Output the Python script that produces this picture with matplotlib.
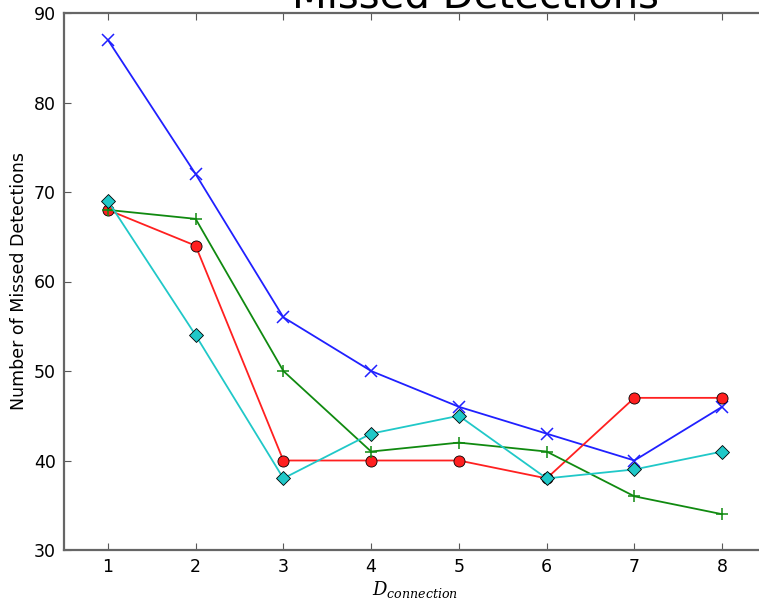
import matplotlib.pyplot as plt

# Missed detections per connection distance
d_connection = [1, 2, 3, 4, 5, 6, 7, 8]
blue_x = [87, 72, 56, 50, 46, 43, 40, 46]
red_o = [68, 64, 40, 40, 40, 38, 47, 47]
green_plus = [68, 67, 50, 41, 42, 41, 36, 34]
cyan_d = [69, 54, 38, 43, 45, 38, 39, 41]

W, H = 759, 601
plt.rcParams['mathtext.fontset'] = 'dejavuserif'

fig = plt.figure(figsize=(W / 100, H / 100), dpi=100)
# the original is a crop: title and right side run off the picture
ax = fig.add_axes([64 / W, 51 / H, (766 - 64) / W, (550 - 13) / H])

ax.plot(d_connection, blue_x, color='#2020ff', marker='x', markersize=8, mew=1.1, lw=1.3)
ax.plot(d_connection, red_o, color='#ff2020', marker='o', markersize=8, mec='k', mew=0.6, lw=1.3)
ax.plot(d_connection, green_plus, color='#108a10', marker='+', markersize=8, mew=1.1, lw=1.3)
ax.plot(d_connection, cyan_d, color='#20c8c8', marker='D', markersize=7, mec='k', mew=0.6, lw=1.3)

ax.set_xlim(0.5, 8.5)
ax.set_ylim(30, 90)
ax.set_xticks(d_connection)
ax.set_yticks(range(30, 91, 10))
ax.tick_params(direction='in', top=True, right=True, length=5, width=0.8,
               color='0.35', labelsize=12.5, pad=6)
for s in ax.spines.values():
    s.set_color('0.4')
    s.set_linewidth(1.6)

ax.set_ylabel('Number of Missed Detections', fontsize=12.5)
ax.set_xlabel(r'$D_{connection}$', fontsize=13, labelpad=2)

fig.text(476 / W, 1 - 8 / H, 'Missed Detections', fontsize=29,
         ha='center', va='baseline')

fig.savefig('out.png', dpi=100)
